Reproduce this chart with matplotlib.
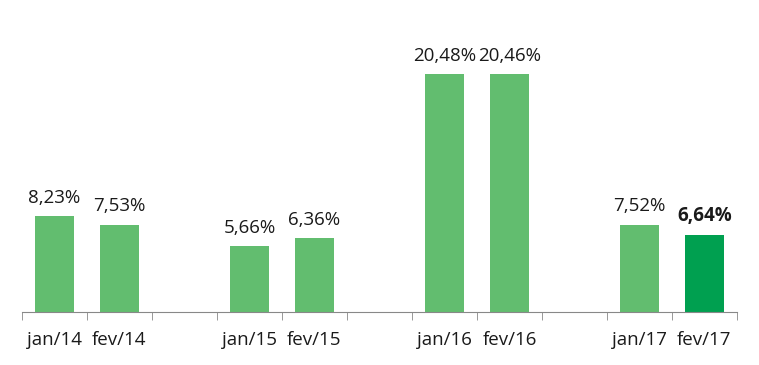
import matplotlib.pyplot as plt

categories = ['jan/14', 'fev/14', '', 'jan/15', 'fev/15', '', 'jan/16', 'fev/16', '', 'jan/17', 'fev/17']
values = [8.23, 7.53, None, 5.66, 6.36, None, 20.48, 20.46, None, 7.52, 6.64]
labels = ['8,23%', '7,53%', '', '5,66%', '6,36%', '', '20,48%', '20,46%', '', '7,52%', '6,64%']

light = '#62bd6f'
dark = '#00a050'

plt.rcParams['font.family'] = ['Open Sans', 'DejaVu Sans']

fig = plt.figure(figsize=(7.59, 3.65), dpi=100)
ax = fig.add_axes([22 / 759, 53 / 365, 715 / 759, 312 / 365])

for i, (v, lab) in enumerate(zip(values, labels)):
    if v is None:
        continue
    last = i == len(values) - 1
    ax.bar(i, v, width=0.585, color=dark if last else light)
    ax.text(i, v + 0.8, lab, ha='center', va='bottom', fontsize=13.5,
            fontweight='bold' if last else 'normal', color='#1a1a1a')

ax.set_xlim(-0.5, len(categories) - 0.5)
ax.set_ylim(0, 312 / 11.62)
ax.set_xticks(range(len(categories)))
ax.set_xticklabels(categories, fontsize=13.5, color='#1a1a1a')
ax.tick_params(axis='x', length=0, pad=14)
ax.set_xticks([i - 0.5 for i in range(len(categories) + 1)], minor=True)
ax.tick_params(axis='x', which='minor', length=6, color='#888888', direction='out')
ax.set_yticks([])
for s in ['top', 'right', 'left']:
    ax.spines[s].set_visible(False)
ax.spines['bottom'].set_color('#888888')

fig.savefig('out.png', dpi=100)
